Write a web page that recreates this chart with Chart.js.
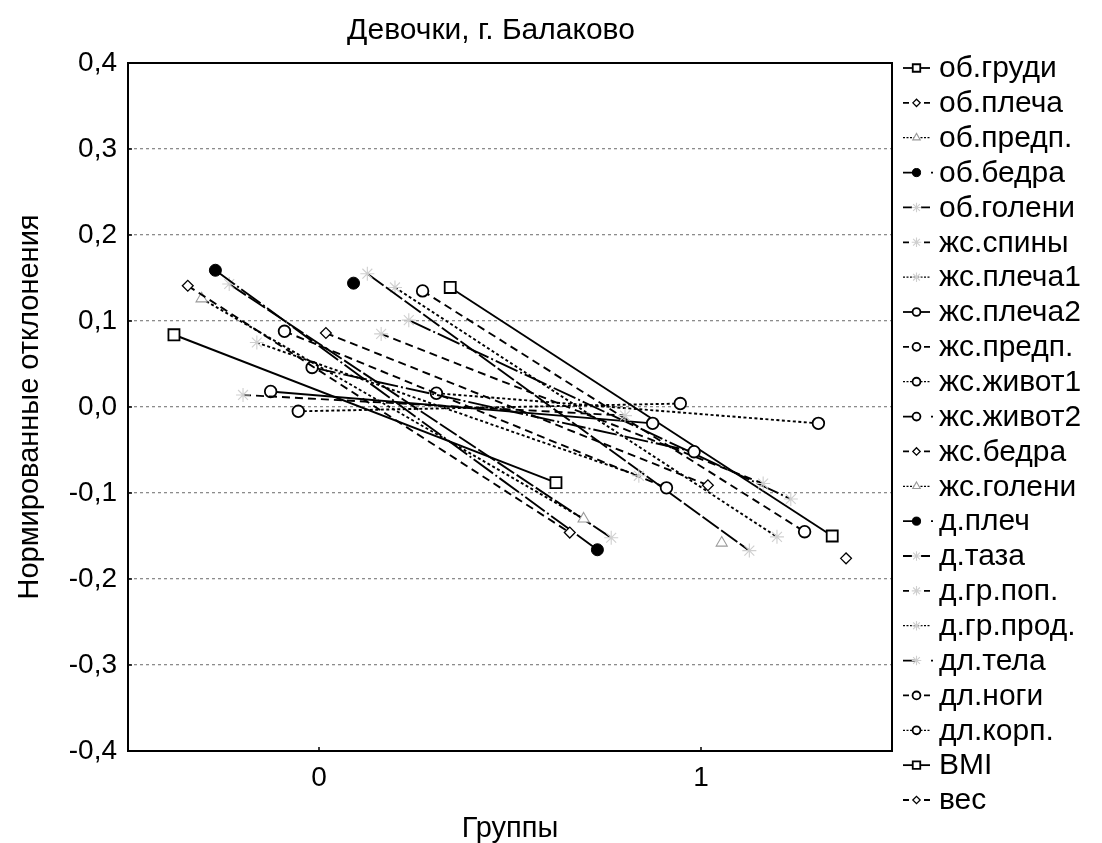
<!DOCTYPE html>
<html>
<head>
<meta charset="utf-8">
<script src="https://cdn.jsdelivr.net/npm/chart.js@4"></script>
<style>
html,body{margin:0;padding:0;background:#fff;}
#c{display:block;}
</style>
</head>
<body>
<canvas id="c" width="1102" height="843"></canvas>
<script>
// ---- data ----
const seriesNames = ['об.груди','об.плеча','об.предп.','об.бедра','об.голени','жс.спины','жс.плеча1','жс.плеча2','жс.предп.','жс.живот1','жс.живот2','жс.бедра','жс.голени','д.плеч','д.таза','д.гр.поп.','д.гр.прод.','дл.тела','дл.ноги','дл.корп.','BMI','вес'];
const group0 = [0.084, 0.141, 0.126, 0.159, 0.143, 0.014, 0.075, 0.018, 0.088, -0.005, 0.046, 0.086, null, 0.144, 0.155, 0.085, 0.139, 0.101, 0.135, 0.016, 0.139, null];
const group1 = [-0.088, -0.146, -0.130, -0.166, -0.152, -0.010, -0.080, -0.019, -0.094, 0.004, -0.052, -0.091, -0.158, null, -0.167, -0.089, -0.151, -0.107, -0.145, -0.019, -0.150, -0.176];
const groupValues = [0, 1];
const xTickLabels = ['0', '1'];
const yTickValues = [0.4, 0.3, 0.2, 0.1, 0, -0.1, -0.2, -0.3, -0.4];
const yTickLabels = ['0,4', '0,3', '0,2', '0,1', '0,0', '-0,1', '-0,2', '-0,3', '-0,4'];
const chartTitle = 'Девочки, г. Балаково';
const xTitle = 'Группы';
const yTitle = 'Нормированные отклонения';

// ---- styles ----
const lineStyles = ['solid','dashed','dotted','dashdot','longdash','dashed','dotted','solid','dashed','dotted','dashdot','dashed','dotted','dashdot','longdash','dashed','dotted','dashdot','dashed','dotted','solid','dashed'];
const markerStyles = ['square','diamond','triangle','dot','star','star','star','circle','circle','circle','circle','diamond','triangle','dot','star','star','star','star','circle','circle','square','diamond'];
const dashMap = { solid: [], dashed: [8,5], dotted: [3,2.5], dashdot: [24,3,2,3], longdash: [20,3] };
const FONT = '"Liberation Sans", Arial, sans-serif';
const spacing = 0.03616;

function markerOpts(m, legend) {
  const k = legend ? 0.68 : 1;
  switch (m) {
    case 'square': return {pointStyle:'rect', radius:7.8*k, bg:'#fff', bc:'#000', bw:1.8};
    case 'diamond': return {pointStyle:'rectRot', radius:5.4*k, bg:'#fff', bc:'#000', bw:1.3};
    case 'triangle': return {pointStyle:'triangle', radius:6.4*k, bg:'#fff', bc:'#9a9a9a', bw:1.1};
    case 'dot': return {pointStyle:'circle', radius:6*k, bg:'#000', bc:'#000', bw:1};
    case 'star': return {pointStyle:'star', radius:7*k, bg:'#fff', bc:'#cfcfcf', bw:1.1};
    default: return {pointStyle:'circle', radius:5.8*k, bg:'#fff', bc:'#000', bw:1.8};
  }
}

const n = seriesNames.length;
const datasets = seriesNames.map((name, i) => {
  const off = (i - (n - 1) / 2) * spacing;
  const mk = markerOpts(markerStyles[i], false);
  return {
    label: name,
    data: [
      {x: groupValues[0] + off, y: group0[i]},
      {x: groupValues[1] + off, y: group1[i]}
    ],
    borderColor: '#000',
    borderWidth: 1.9,
    borderDash: dashMap[lineStyles[i]],
    pointStyle: mk.pointStyle,
    pointRadius: mk.radius,
    pointBackgroundColor: mk.bg,
    pointBorderColor: mk.bc,
    pointBorderWidth: mk.bw,
    fill: false,
    tension: 0,
    spanGaps: false
  };
});

const frame = {
  id: 'frame',
  beforeDraw(chart) {
    const {ctx} = chart;
    ctx.save();
    ctx.fillStyle = '#fff';
    ctx.fillRect(0, 0, chart.width, chart.height);
    ctx.restore();
  },
  afterDraw(chart) {
    const {ctx, chartArea: a, scales} = chart;
    ctx.save();
    // frame
    ctx.strokeStyle = '#000';
    ctx.lineWidth = 2;
    ctx.setLineDash([]);
    ctx.strokeRect(a.left, a.top, a.right - a.left, a.bottom - a.top);
    // inward ticks
    ctx.lineWidth = 1.5;
    ctx.beginPath();
    yTickValues.forEach(v => {
      const y = scales.y.getPixelForValue(v);
      ctx.moveTo(a.left, y); ctx.lineTo(a.left + 4, y);
    });
    groupValues.forEach(v => {
      const x = scales.x.getPixelForValue(v);
      ctx.moveTo(x, a.bottom); ctx.lineTo(x, a.bottom - 4);
    });
    ctx.stroke();
    // title
    ctx.fillStyle = '#000';
    ctx.font = '30px ' + FONT;
    ctx.textAlign = 'center';
    ctx.textBaseline = 'middle';
    ctx.fillText(chartTitle, 491, 31);
    // legend
    const x0 = 903, x1 = 930, xm = 916.5;
    const step = (800 - 68) / (n - 1);
    ctx.font = '30px ' + FONT;
    ctx.textAlign = 'left';
    seriesNames.forEach((name, i) => {
      const y = 68 + i * step;
      const st = lineStyles[i];
      ctx.strokeStyle = '#000';
      ctx.lineWidth = 1.8;
      ctx.beginPath();
      ctx.setLineDash([]);
      if (st === 'solid') {
        ctx.moveTo(x0, y); ctx.lineTo(x1, y); ctx.stroke();
      } else if (st === 'dashed') {
        ctx.moveTo(x0, y); ctx.lineTo(x0 + 6, y);
        ctx.moveTo(x1 - 6, y); ctx.lineTo(x1, y); ctx.stroke();
      } else if (st === 'dotted') {
        ctx.lineWidth = 1.2;
        ctx.setLineDash([2, 1.5]);
        ctx.moveTo(x0, y); ctx.lineTo(x1, y); ctx.stroke();
      } else if (st === 'dashdot') {
        ctx.moveTo(x0, y); ctx.lineTo(xm, y);
        ctx.moveTo(x1 + 1, y); ctx.lineTo(x1 + 3, y); ctx.stroke();
      } else if (st === 'longdash') {
        ctx.moveTo(x0, y); ctx.lineTo(x0 + 9, y);
        ctx.moveTo(x1 - 9, y); ctx.lineTo(x1, y); ctx.stroke();
      }
      ctx.setLineDash([]);
      const mk = markerOpts(markerStyles[i], true);
      ctx.fillStyle = mk.bg;
      ctx.strokeStyle = mk.bc;
      ctx.lineWidth = mk.bw;
      Chart.helpers.drawPoint(ctx, {pointStyle: mk.pointStyle, radius: mk.radius, rotation: 0, borderWidth: mk.bw}, xm, y);
      ctx.fillStyle = '#000';
      ctx.textBaseline = 'middle';
      ctx.fillText(name, 939, y + 1);
    });
    ctx.restore();
  }
};

new Chart(document.getElementById('c'), {
  type: 'line',
  data: { datasets },
  options: {
    responsive: false,
    animation: false,
    devicePixelRatio: 1,
    layout: { padding: { top: 63, right: 210, left: 0, bottom: 0 } },
    plugins: { legend: { display: false }, title: { display: false }, tooltip: { enabled: false } },
    scales: {
      x: {
        type: 'linear',
        min: -0.5,
        max: 1.5,
        afterBuildTicks(scale) { scale.ticks = groupValues.map(v => ({value: v})); },
        afterFit(scale) { scale.height = 92; },
        ticks: {
          autoSkip: false,
          maxRotation: 0,
          padding: 10,
          color: '#000',
          font: { family: FONT, size: 28 },
          callback(value) { const k = groupValues.indexOf(value); return k >= 0 ? xTickLabels[k] : ''; }
        },
        grid: { display: false, drawTicks: false },
        border: { display: false },
        title: { display: true, text: xTitle, color: '#000', font: { family: FONT, size: 29, lineHeight: 1 }, padding: { top: 0, bottom: 0 } }
      },
      y: {
        type: 'linear',
        min: -0.4,
        max: 0.4,
        afterBuildTicks(scale) { scale.ticks = yTickValues.map(v => ({value: v})); },
        afterFit(scale) { scale.width = 128; },
        ticks: {
          autoSkip: false,
          padding: 11,
          color: '#000',
          font: { family: FONT, size: 28 },
          callback(value) { const k = yTickValues.findIndex(v => Math.abs(v - value) < 1e-9); return k >= 0 ? yTickLabels[k] : ''; }
        },
        grid: {
          drawTicks: false,
          lineWidth: 1.3,
          color(ctx) { const v = ctx.tick ? ctx.tick.value : 0; return Math.abs(v) > 0.399 ? 'rgba(0,0,0,0)' : '#8c8c8c'; }
        },
        border: { display: false, dash: [3, 3] },
        title: { display: true, text: yTitle, color: '#000', font: { family: FONT, size: 29, lineHeight: 1.2 }, padding: { top: 13, bottom: 0 } }
      }
    }
  },
  plugins: [frame]
});
</script>
</body>
</html>
